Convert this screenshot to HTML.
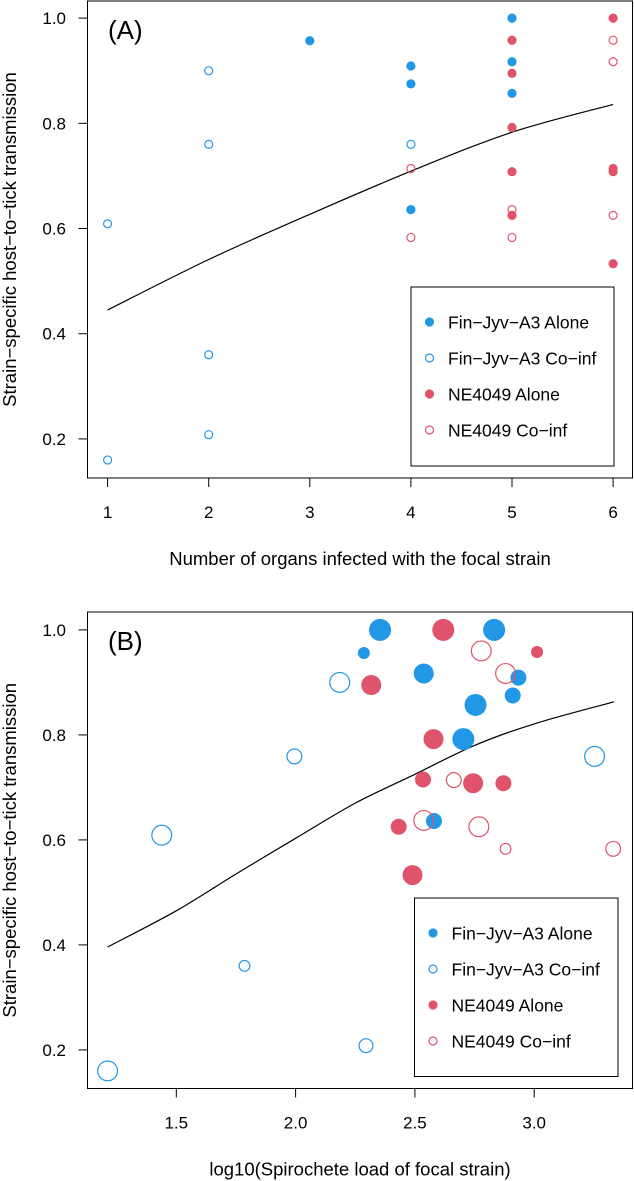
<!DOCTYPE html>
<html><head><meta charset="utf-8">
<style>
html,body{margin:0;padding:0;background:#fff;}
svg{display:block;font-family:"Liberation Sans",Arial,sans-serif;}
</style></head>
<body>
<svg id="chart" width="634" height="1181" viewBox="0 0 634 1181" xmlns="http://www.w3.org/2000/svg"></svg>
<script>
// ---- Panel A data ----
const aFinAloneX = [3,4,4,4,5,5,5];
const aFinAloneY = [0.957,0.909,0.875,0.636,1.0,0.917,0.857];
const aFinCoX = [1,1,2,2,2,2,4];
const aFinCoY = [0.609,0.16,0.9,0.76,0.36,0.208,0.76];
const aNeAloneX = [5,5,5,5,5,6,6,6,6];
const aNeAloneY = [0.958,0.895,0.792,0.708,0.625,1.0,0.714,0.708,0.533];
const aNeCoX = [4,4,5,5,6,6,6];
const aNeCoY = [0.714,0.583,0.636,0.583,0.958,0.917,0.625];
const aCurveX = [1,2,3,4,5,6];
const aCurveY = [0.445,0.541,0.627,0.709,0.783,0.836];
const aXTicks = [1,2,3,4,5,6];
const aYTicks = [0.2,0.4,0.6,0.8,1.0];

// ---- Panel B data ----
const bFinAloneX = [2.354,2.286,2.832,2.537,2.934,2.910,2.754,2.703,2.580];
const bFinAloneY = [1.0,0.956,1.0,0.917,0.909,0.875,0.857,0.792,0.636];
const bFinAloneS = [11,6,11,10,8,8,11,11,8];
const bFinCoX = [2.185,1.995,3.253,1.439,1.786,2.295,1.212];
const bFinCoY = [0.9,0.759,0.759,0.609,0.360,0.208,0.160];
const bFinCoS = [10.5,8,10.5,10.5,6,7.5,10.5];
const bNeAloneX = [2.619,3.012,2.317,2.578,2.534,2.744,2.871,2.432,2.490];
const bNeAloneY = [1.0,0.958,0.895,0.792,0.715,0.708,0.708,0.625,0.533];
const bNeAloneS = [11,6,10,10,8,10,8,8,10];
const bNeCoX = [2.778,2.880,2.663,2.537,2.768,2.880,3.331];
const bNeCoY = [0.960,0.917,0.714,0.637,0.625,0.583,0.583];
const bNeCoS = [10.5,10.5,8,10.5,10.5,6,8];
const bCurveX = [1.212,1.5,1.75,2.0,2.25,2.5,2.75,3.0,3.334];
const bCurveY = [0.396,0.465,0.535,0.603,0.67,0.725,0.78,0.821,0.863];
const bXTicks = [1.5,2.0,2.5,3.0];
const bYTicks = [0.2,0.4,0.6,0.8,1.0];

const BLUE = "#2297E6", RED = "#DF536B";
const NS = "http://www.w3.org/2000/svg";
const svg = document.getElementById("chart");
function mk(tag, attrs, parent){
  const e = document.createElementNS(NS, tag);
  for (const k in attrs) e.setAttribute(k, attrs[k]);
  (parent||svg).appendChild(e);
  return e;
}
function smoothPath(pts){
  let d = "M" + pts[0][0].toFixed(1) + "," + pts[0][1].toFixed(1);
  for (let i = 0; i < pts.length - 1; i++){
    const p0 = pts[Math.max(0,i-1)], p1 = pts[i], p2 = pts[i+1], p3 = pts[Math.min(pts.length-1,i+2)];
    const c1x = p1[0] + (p2[0]-p0[0])/6, c1y = p1[1] + (p2[1]-p0[1])/6;
    const c2x = p2[0] - (p3[0]-p1[0])/6, c2y = p2[1] - (p3[1]-p1[1])/6;
    d += ` C${c1x.toFixed(1)},${c1y.toFixed(1)} ${c2x.toFixed(1)},${c2y.toFixed(1)} ${p2[0].toFixed(1)},${p2[1].toFixed(1)}`;
  }
  return d;
}

function panel(cfg){
  const g = mk("g", {});
  
  
  const sx = v => cfg.x0 + (v - cfg.xv0) * cfg.xk;
  const sy = v => cfg.y0 + (1 - v) * cfg.yk;
  const box = mk("rect", {x:87.5, y:cfg.top, width:545, height:cfg.bottom-cfg.top, fill:"none", stroke:"#000", "stroke-width":1}, g);
  
  
  cfg.xticks.forEach(t => {
    const x = sx(t);
    const l = mk("line", {x1:x, x2:x, y1:cfg.bottom, y2:cfg.bottom+9, stroke:"#000"}, g);
    
    
    const tx = mk("text", {x:x, y:cfg.bottom+40, "font-size":17, "text-anchor":"middle"}, g);
    tx.textContent = cfg.xfmt(t);
    
    
  });
  cfg.yticks.forEach(t => {
    const y = sy(t);
    const l = mk("line", {x1:87.5, x2:78.5, y1:y, y2:y, stroke:"#000"}, g);
    
    
    const tx = mk("text", {x:66, y:y+6, "font-size":17, "text-anchor":"end"}, g);
    tx.textContent = t.toFixed(1);
    
    
  });
  const xt = mk("text", {x:360, y:cfg.bottom+87, "font-size":18.5, "text-anchor":"middle"}, g);
  xt.textContent = cfg.xtitle;
  
  
  const yc = (cfg.top+cfg.bottom)/2;
  const yt = mk("text", {x:0, y:0, "font-size":18.5, "text-anchor":"middle", transform:`translate(16,${yc}) rotate(-90)`}, g);
  yt.textContent = "Strain\u2212specific host\u2212to\u2212tick transmission";
  
  
  const pl = mk("text", {x:108, y:cfg.top+38, "font-size":26}, g);
  pl.textContent = cfg.label;
  
  
  const pts = cfg.cx.map((v,i) => [sx(v), sy(cfg.cy[i])]);
  const c = mk("path", {d:smoothPath(pts), fill:"none", stroke:"#000", "stroke-width":1.2}, g);
  
  
  cfg.series.forEach(s => {
    s.x.forEach((v,i) => {
      const r = s.s ? s.s[i] : 4.6;
      const attrs = {cx:sx(v), cy:sy(s.y[i]), r: s.fill ? r : r-0.6};
      if (s.fill) { attrs.fill = s.color; } else { attrs.fill = "none"; attrs.stroke = s.color; attrs["stroke-width"] = 1.2; }
      const p = mk("circle", attrs, g);
      
      
    });
  });
  const L = cfg.legend;
  const lg = mk("g", {}, g);
  
  
  mk("rect", {x:L.x, y:L.y, width:L.w, height:L.h, fill:"#fff", stroke:"#000"}, lg);
  const labels = ["Fin\u2212Jyv\u2212A3 Alone","Fin\u2212Jyv\u2212A3 Co\u2212inf","NE4049 Alone","NE4049 Co\u2212inf"];
  const cols = [BLUE,BLUE,RED,RED], fills=[true,false,true,false];
  labels.forEach((t,i) => {
    const y = L.y + 35 + i*36;
    const a = {cx:L.x+18.5, cy:y, r: fills[i]?4.6:4};
    if (fills[i]) a.fill = cols[i]; else { a.fill="none"; a.stroke=cols[i]; a["stroke-width"]=1.2; }
    const ci = mk("circle", a, lg);
    
    
    const tx = mk("text", {x:L.x+37, y:y+6.5, "font-size":17.5}, lg);
    tx.textContent = t;
    
    
  });
}

panel({name:"panel-a", label:"(A)", top:1, bottom:478, x0:107.6, xv0:1, xk:101.1, y0:18.1, yk:526,
  xticks:aXTicks, yticks:aYTicks, xfmt:t=>String(t), xtitle:"Number of organs infected with the focal strain",
  cx:aCurveX, cy:aCurveY,
  series:[
    {name:"fin-alone", x:aFinAloneX, y:aFinAloneY, color:BLUE, fill:true},
    {name:"fin-coinf", x:aFinCoX, y:aFinCoY, color:BLUE, fill:false},
    {name:"ne-alone", x:aNeAloneX, y:aNeAloneY, color:RED, fill:true},
    {name:"ne-coinf", x:aNeCoX, y:aNeCoY, color:RED, fill:false}],
  legend:{x:411, y:287, w:203, h:179}});

panel({name:"panel-b", label:"(B)", top:612, bottom:1088.5, x0:176.3, xv0:1.5, xk:238.6, y0:629.9, yk:525,
  xticks:bXTicks, yticks:bYTicks, xfmt:t=>t.toFixed(1), xtitle:"log10(Spirochete load of focal strain)",
  cx:bCurveX, cy:bCurveY,
  series:[
    {name:"fin-alone", x:bFinAloneX, y:bFinAloneY, s:bFinAloneS, color:BLUE, fill:true},
    {name:"fin-coinf", x:bFinCoX, y:bFinCoY, s:bFinCoS, color:BLUE, fill:false},
    {name:"ne-alone", x:bNeAloneX, y:bNeAloneY, s:bNeAloneS, color:RED, fill:true},
    {name:"ne-coinf", x:bNeCoX, y:bNeCoY, s:bNeCoS, color:RED, fill:false}],
  legend:{x:414.5, y:898, w:203.5, h:178.5}});
</script>
</body></html>
